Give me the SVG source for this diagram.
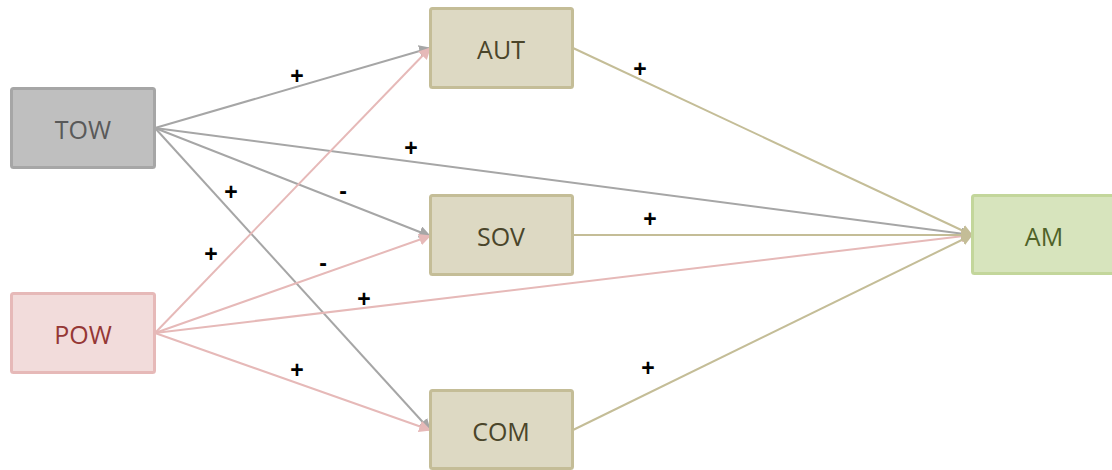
<svg xmlns="http://www.w3.org/2000/svg" width="1112" height="470" viewBox="0 0 1112 470">
  <style>
    .box { stroke-width: 3; }
    .lbl { font-family: "Open Sans", "Liberation Sans", Arial, sans-serif; font-size: 25px; text-anchor: middle; dominant-baseline: central; }
    .sign { font-family: "Liberation Sans", Arial, sans-serif; font-size: 23px; font-weight: bold; text-anchor: middle; fill: #000; }
    .gray { stroke: #a6a6a6; stroke-width: 2; fill: none; }
    .pink { stroke: #e6b9b8; stroke-width: 2; fill: none; }
    .tan { stroke: #c4bd97; stroke-width: 2; fill: none; }
  </style>
  <defs>
    <marker id="ah-gray" viewBox="0 0 10 10" refX="9" refY="5" markerWidth="6" markerHeight="6" markerUnits="strokeWidth" orient="auto">
      <path d="M0,0 L10,5 L0,10 z" fill="#a6a6a6"/>
    </marker>
    <marker id="ah-pink" viewBox="0 0 10 10" refX="9" refY="5" markerWidth="6" markerHeight="6" markerUnits="strokeWidth" orient="auto">
      <path d="M0,0 L10,5 L0,10 z" fill="#e6b9b8"/>
    </marker>
    <marker id="ah-tan" viewBox="0 0 10 10" refX="9" refY="5" markerWidth="6" markerHeight="6" markerUnits="strokeWidth" orient="auto">
      <path d="M0,0 L10,5 L0,10 z" fill="#c4bd97"/>
    </marker>
  </defs>

  <g id="connectors">
    <line class="gray" x1="155" y1="128" x2="430" y2="48" marker-end="url(#ah-gray)"/>
    <line class="gray" x1="155" y1="128" x2="430" y2="236" marker-end="url(#ah-gray)"/>
    <line class="gray" x1="155" y1="128" x2="430" y2="430" marker-end="url(#ah-gray)"/>
    <line class="gray" x1="155" y1="128" x2="972" y2="235" marker-end="url(#ah-gray)"/>
    <line class="pink" x1="155" y1="333" x2="430" y2="48" marker-end="url(#ah-pink)"/>
    <line class="pink" x1="155" y1="333" x2="430" y2="236" marker-end="url(#ah-pink)"/>
    <line class="pink" x1="155" y1="333" x2="430" y2="430" marker-end="url(#ah-pink)"/>
    <line class="pink" x1="155" y1="333" x2="972" y2="235" marker-end="url(#ah-pink)"/>
    <line class="tan" x1="573" y1="48" x2="972" y2="235" marker-end="url(#ah-tan)"/>
    <line class="tan" x1="573" y1="235" x2="972" y2="235" marker-end="url(#ah-tan)"/>
    <line class="tan" x1="573" y1="430" x2="972" y2="235" marker-end="url(#ah-tan)"/>
  </g>

  <g id="signs">
    <text class="sign" x="297" y="84">+</text>
    <text class="sign" x="640" y="77">+</text>
    <text class="sign" x="411" y="156">+</text>
    <text class="sign" x="231" y="200">+</text>
    <text class="sign" x="343" y="199">-</text>
    <text class="sign" x="650" y="227">+</text>
    <text class="sign" x="211" y="262">+</text>
    <text class="sign" x="323" y="271">-</text>
    <text class="sign" x="364" y="307">+</text>
    <text class="sign" x="297" y="378">+</text>
    <text class="sign" x="648" y="376">+</text>
  </g>

  <g id="TOW">
    <rect class="box" x="11.5" y="88.5" width="143" height="79" rx="2" fill="#bfbfbf" stroke="#a6a6a6"/>
    <text class="lbl" x="83" y="129" fill="#595959">TOW</text>
  </g>
  <g id="POW">
    <rect class="box" x="11.5" y="293.5" width="143" height="79" rx="2" fill="#f2dcdb" stroke="#e6b9b8"/>
    <text class="lbl" x="83" y="334" fill="#953735">POW</text>
  </g>
  <g id="AUT">
    <rect class="box" x="430.5" y="8.5" width="142" height="79" rx="2" fill="#ddd9c3" stroke="#c4bd97"/>
    <text class="lbl" x="501" y="49" fill="#4a452a">AUT</text>
  </g>
  <g id="SOV">
    <rect class="box" x="430.5" y="195.5" width="142" height="79" rx="2" fill="#ddd9c3" stroke="#c4bd97"/>
    <text class="lbl" x="501" y="236" fill="#4a452a">SOV</text>
  </g>
  <g id="COM">
    <rect class="box" x="430.5" y="390.5" width="142" height="78" rx="2" fill="#ddd9c3" stroke="#c4bd97"/>
    <text class="lbl" x="501" y="431" fill="#4a452a">COM</text>
  </g>
  <g id="AM">
    <rect class="box" x="972.5" y="195.5" width="142" height="78" rx="2" fill="#d7e4bd" stroke="#c3d69b"/>
    <text class="lbl" x="1044" y="236" fill="#4f6228">AM</text>
  </g>
</svg>
